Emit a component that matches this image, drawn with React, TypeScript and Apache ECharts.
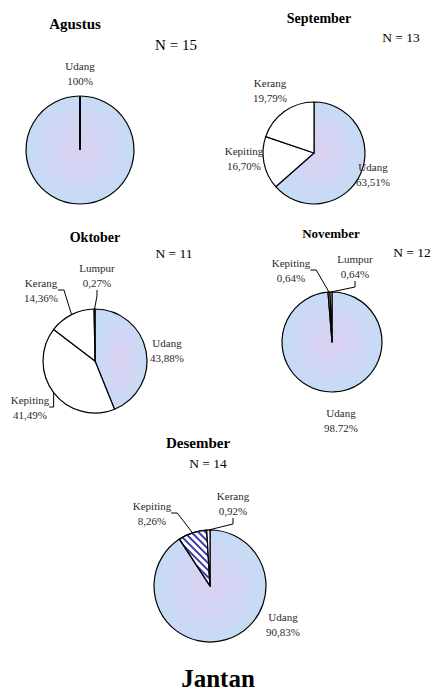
import React, { useEffect, useRef } from "react";
import * as echarts from "echarts";

// ---- data ----
const monthTitles = ["Agustus", "September", "Oktober", "November", "Desember"];
const sampleSizes = [15, 13, 11, 12, 14];
const chartTitle = "Jantan";

const agustusNames = ["Udang"];
const agustusValues = [100];
const septemberNames = ["Udang", "Kepiting", "Kerang"];
const septemberValues = [63.51, 16.7, 19.79];
const oktoberNames = ["Udang", "Kepiting", "Kerang", "Lumpur"];
const oktoberValues = [43.88, 41.49, 14.36, 0.27];
const novemberNames = ["Udang", "Kepiting", "Lumpur"];
const novemberValues = [98.72, 0.64, 0.64];
const desemberNames = ["Udang", "Kepiting", "Kerang"];
const desemberValues = [90.83, 8.26, 0.92];

// decimal mark as printed on each label
const novemberDecimalMarks = [".", ",", ","];

// ---- layout / style ----
const FONT = "Liberation Serif";

const udangFill = {
  type: "radial",
  x: 0.5,
  y: 0.5,
  r: 0.5,
  colorStops: [
    { offset: 0, color: "#dccff2" },
    { offset: 0.6, color: "#cfd7f4" },
    { offset: 1, color: "#c6dbf5" },
  ],
};

function fmt(v: number, mark = ",") {
  if (v === 100) return "100%";
  return v.toFixed(2).replace(".", mark) + "%";
}

type PieCfg = {
  names: string[];
  values: number[];
  center: [number, number];
  r: number;
  labelPos: [number, number][];
  lineShow: boolean[];
  colors: any[];
  marks?: string[];
  decals?: any[];
};

const pies: PieCfg[] = [
  {
    names: agustusNames,
    values: agustusValues,
    center: [80, 150],
    r: 54,
    labelPos: [[80, 73]],
    lineShow: [false],
    colors: [udangFill],
  },
  {
    names: septemberNames,
    values: septemberValues,
    center: [314, 153],
    r: 51,
    labelPos: [
      [373, 174],
      [244, 158],
      [270, 90],
    ],
    lineShow: [false, false, false],
    colors: [udangFill, "#ffffff", "#ffffff"],
  },
  {
    names: oktoberNames,
    values: oktoberValues,
    center: [95, 361],
    r: 52,
    labelPos: [
      [167, 350],
      [30, 407],
      [41, 290],
      [97, 275],
    ],
    lineShow: [false, true, true, true],
    colors: [udangFill, "#ffffff", "#ffffff", "#ffffff"],
  },
  {
    names: novemberNames,
    values: novemberValues,
    center: [332, 342],
    r: 50,
    labelPos: [
      [341, 420],
      [291, 270],
      [355, 266],
    ],
    lineShow: [false, true, true],
    colors: [udangFill, "#b9b6e6", "#f1e7a0"],
    marks: novemberDecimalMarks,
  },
  {
    names: desemberNames,
    values: desemberValues,
    center: [210, 586],
    r: 56,
    labelPos: [
      [283, 624],
      [152, 513],
      [233, 503],
    ],
    lineShow: [false, true, true],
    colors: [udangFill, "#ffffff", "#ffffff"],
    decals: [
      null,
      {
        symbol: "rect",
        symbolSize: 1,
        color: "#3a3aa8",
        dashArrayX: [1, 0],
        dashArrayY: [1.6, 2.6],
        rotation: Math.PI / 4,
      },
      null,
    ],
  },
];

const titlePos: [number, number, number][] = [
  [75, 24, 15],
  [319, 18, 14],
  [95, 237, 14],
  [331, 233, 13],
  [198, 443, 15],
];
const nPos: [number, number, number][] = [
  [176, 45, 15],
  [401, 37, 13.5],
  [174, 253, 13.5],
  [412, 252, 13.5],
  [208, 463, 13.5],
];

export default function App() {
  const ref = useRef<HTMLDivElement>(null);
  useEffect(() => {
    if (!ref.current) return;
    const chart = echarts.init(ref.current, null, { renderer: "svg" });

    const series = pies.map((p) => ({
      type: "pie",
      center: p.center,
      radius: p.r,
      startAngle: 90,
      clockwise: true,
      avoidLabelOverlap: false,
      animation: false,
      silent: true,
      itemStyle: { borderColor: "#000", borderWidth: 1.2 },
      label: {
        show: true,
        position: "outside",
        fontFamily: FONT,
        fontSize: 11,
        lineHeight: 15,
        color: "#2a2a2a",
        align: "center",
        formatter: (prm: any) =>
          prm.name + "\n" + fmt(prm.value, p.marks ? p.marks[prm.dataIndex] : ","),
      },
      labelLine: {
        show: true,
        length: 6,
        length2: 6,
        lineStyle: { color: "#000", width: 1 },
      },
      labelLayout: (prm: any) => {
        const pos = p.labelPos[prm.dataIndex];
        return { x: pos[0], y: pos[1], align: "center", verticalAlign: "middle" };
      },
      emphasis: { disabled: true },
      data: p.names.map((n, i) => ({
        name: n,
        value: p.values[i],
        itemStyle: {
          color: p.colors[i],
          ...(p.decals && p.decals[i] ? { decal: p.decals[i] } : {}),
        },
        labelLine: { show: p.lineShow[i] },
      })),
    }));

    const graphics: any[] = [];
    monthTitles.forEach((t, i) => {
      graphics.push({
        type: "text",
        x: titlePos[i][0],
        y: titlePos[i][1],
        silent: true,
        style: {
          text: t,
          fontFamily: FONT,
          fontSize: titlePos[i][2],
          fontWeight: "bold",
          fill: "#000",
          align: "center",
          verticalAlign: "middle",
        },
      });
      graphics.push({
        type: "text",
        x: nPos[i][0],
        y: nPos[i][1],
        silent: true,
        style: {
          text: "N = " + sampleSizes[i],
          fontFamily: FONT,
          fontSize: nPos[i][2],
          fill: "#000",
          align: "center",
          verticalAlign: "middle",
        },
      });
    });
    graphics.push({
      type: "text",
      x: 218,
      y: 678,
      silent: true,
      style: {
        text: chartTitle,
        fontFamily: FONT,
        fontSize: 25,
        fontWeight: "bold",
        fill: "#000",
        align: "center",
        verticalAlign: "middle",
      },
    });
    // radial edge of the single 100% slice (Agustus)
    const a = pies[0];
    graphics.push({
      type: "line",
      silent: true,
      z: 10,
      shape: { x1: a.center[0], y1: a.center[1], x2: a.center[0], y2: a.center[1] - a.r },
      style: { stroke: "#000", lineWidth: 2 },
    });

    chart.setOption({
      animation: false,
      backgroundColor: "#ffffff",
      textStyle: { fontFamily: FONT },
      series,
      graphic: { elements: graphics },
    });
    return () => chart.dispose();
  }, []);
  return (
    <div
      ref={ref}
      style={{ position: "absolute", left: 0, top: 0, width: 438, height: 691 }}
    />
  );
}
